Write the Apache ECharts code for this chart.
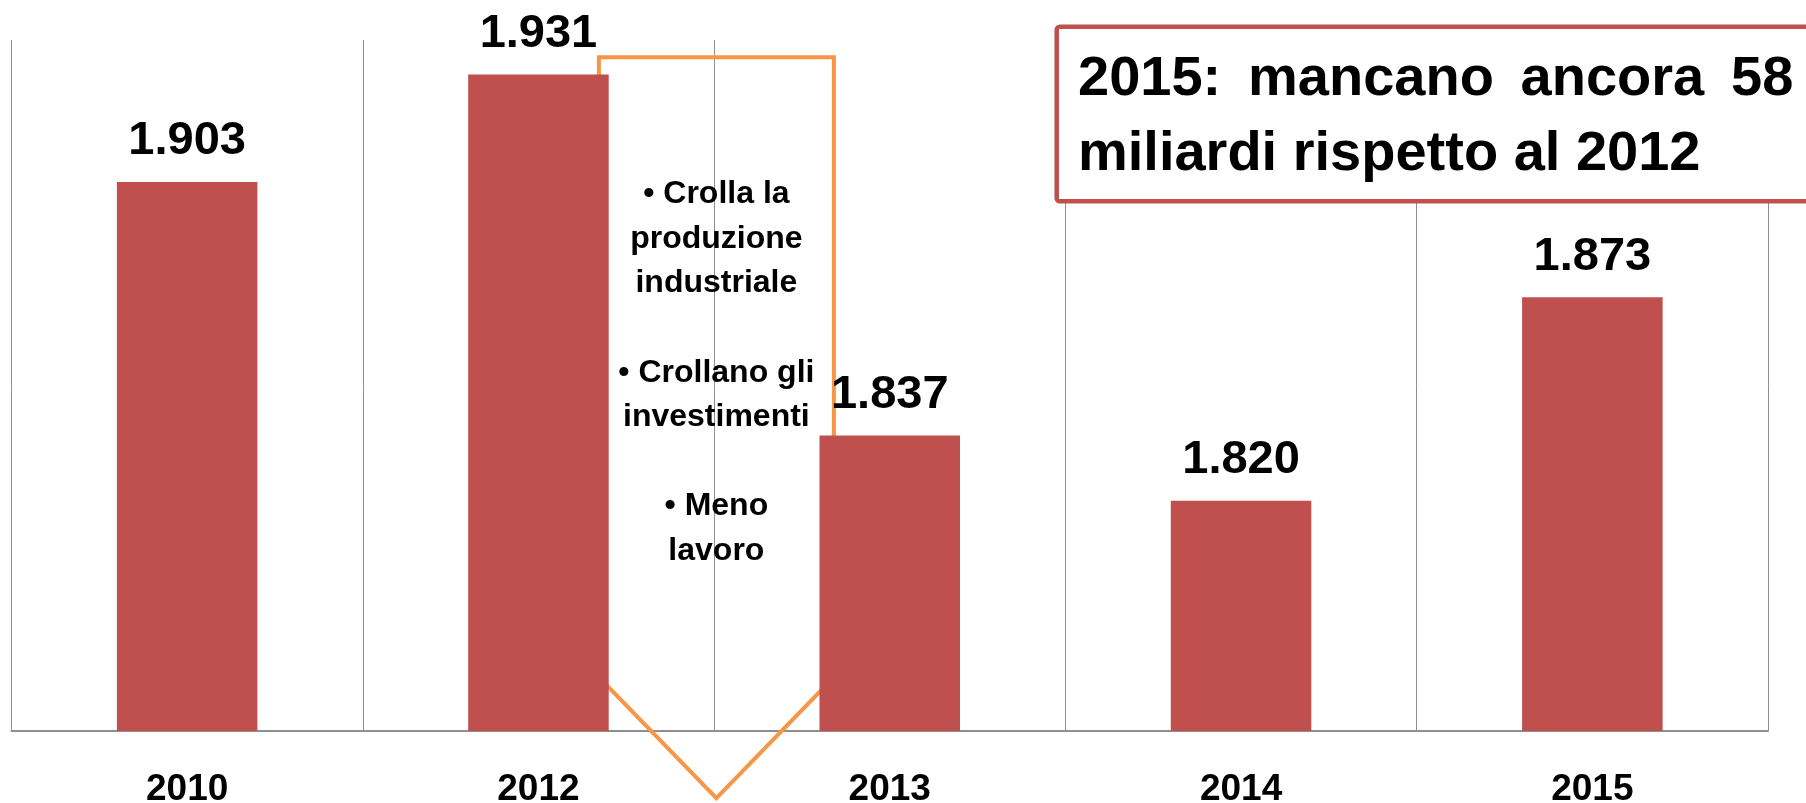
<!DOCTYPE html>
<html>
<head>
<meta charset="utf-8">
<script src="https://cdn.jsdelivr.net/npm/echarts@6/dist/echarts.min.js"></script>
<style>
  html, body { margin: 0; padding: 0; background: #fff; }
  #main { width: 1806px; height: 803px; }
</style>
</head>
<body>
<div id="main"></div>
<script>
// dati
var anni = ['2010', '2012', '2013', '2014', '2015'];
var valori = [1903, 1931, 1837, 1820, 1873];
var asseMin = 1760;
var asseMax = 1940;

var titolo = ['2015: \u2009mancano \u2009ancora \u200958', 'miliardi rispetto al 2012'];
var note = ['\u2022 Crolla la', 'produzione', 'industriale', '', '\u2022 Crollano gli', 'investimenti', '', '\u2022 Meno', 'lavoro'];

var font = '"Liberation Sans", Arial, sans-serif';

function migliaia(v) {
    return String(v).replace(/\B(?=(\d{3})+(?!\d))/g, '.');
}

var myChart = echarts.init(document.getElementById('main'));

var option = {
    animation: false,
    backgroundColor: '#fff',
    grid: { left: 11.5, right: 38, top: 40, bottom: 72, outerBoundsMode: 'none', containLabel: false },
    xAxis: {
        type: 'category',
        data: anni,
        axisTick: { show: false },
        axisLine: { lineStyle: { color: '#8f8f8f', width: 2 } },
        axisLabel: {
            margin: 40,
            color: '#000',
            fontFamily: font,
            fontWeight: 'bold',
            fontSize: 37
        },
        splitLine: { show: true, lineStyle: { color: '#8f8f8f', width: 1 } }
    },
    yAxis: {
        type: 'value',
        min: asseMin,
        max: asseMax,
        show: false,
        splitLine: { show: false }
    },
    series: [{
        type: 'bar',
        data: valori,
        barCategoryGap: '60%',
        z: 2,
        itemStyle: { color: '#C0504D' },
        label: {
            show: true,
            position: 'top',
            distance: 17,
            color: '#000',
            fontFamily: font,
            fontWeight: 'bold',
            fontSize: 47,
            formatter: function (p) { return migliaia(p.value); }
        }
    }]
};

myChart.setOption(option);

// freccia arancione tra 2012 e 2013 e riquadro del titolo
var x1 = myChart.convertToPixel({ xAxisIndex: 0 }, 1);
var x2 = myChart.convertToPixel({ xAxisIndex: 0 }, 2);
var w = x2 - x1;
var sx = x1 + 0.172 * w;
var dx = x2 - 0.159 * w;
var cx = (sx + dx) / 2;
var yTop = myChart.convertToPixel({ yAxisIndex: 0 }, 1935.5);
var ySpalla = myChart.convertToPixel({ yAxisIndex: 0 }, 1774);
var yPunta = myChart.convertToPixel({ yAxisIndex: 0 }, 1742.5);

myChart.setOption({
    graphic: [
        {
            type: 'polygon',
            z: 1,
            shape: { points: [[sx, yTop], [dx, yTop], [dx, ySpalla], [cx, yPunta], [sx, ySpalla]] },
            style: { fill: 'none', stroke: '#F79646', lineWidth: 4 }
        },
        {
            type: 'text',
            z: 3,
            x: cx,
            y: 172,
            style: {
                text: note.join('\n'),
                fill: '#000',
                font: 'bold 32px ' + font,
                lineHeight: 44.6,
                align: 'center',
                verticalAlign: 'top'
            }
        },
        {
            type: 'rect',
            z: 4,
            shape: { x: 1056.7, y: 26.7, width: 800, height: 174.5, r: 3 },
            style: { fill: '#fff', stroke: '#C0504D', lineWidth: 4.5 }
        },
        {
            type: 'text',
            z: 5,
            x: 1078,
            y: 79.3,
            style: { text: titolo[0], fill: '#000', font: 'bold 56px ' + font, align: 'left', verticalAlign: 'middle' }
        },
        {
            type: 'text',
            z: 5,
            x: 1078,
            y: 154.3,
            style: { text: titolo[1], fill: '#000', font: 'bold 56px ' + font, align: 'left', verticalAlign: 'middle' }
        }
    ]
});
</script>
</body>
</html>
